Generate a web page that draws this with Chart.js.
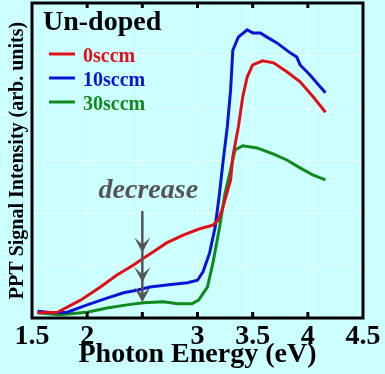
<!DOCTYPE html>
<html>
<head>
<meta charset="utf-8">
<script src="https://cdn.jsdelivr.net/npm/chart.js@4.4.0/dist/chart.umd.min.js"></script>
<style>
  html, body { margin: 0; padding: 0; background: #ccffff; }
  canvas { display: block; }
</style>
</head>
<body>
<canvas id="pptChart" width="385" height="374"></canvas>
<script>
// Values: photon energy (eV) and PPT signal (arb. units)
const seriesNames = ['0sccm', '10sccm', '30sccm'];

const energy0 = [1.55, 1.73, 1.94, 2.12, 2.27, 2.42, 2.51, 2.60, 2.72, 2.87, 3.02, 3.14, 3.19, 3.23, 3.30, 3.32, 3.37, 3.41, 3.45, 3.50, 3.59, 3.69, 3.81, 3.93, 4.05, 4.16];
const signal0 = [0.10, 0.11, 0.34, 0.59, 0.82, 1.01, 1.14, 1.26, 1.43, 1.58, 1.70, 1.77, 1.87, 2.11, 2.63, 3.07, 3.64, 4.21, 4.59, 4.82, 4.90, 4.86, 4.69, 4.50, 4.21, 3.92];

const energy10 = [1.55, 1.69, 1.82, 2.00, 2.18, 2.33, 2.45, 2.57, 2.72, 2.91, 3.00, 3.05, 3.11, 3.16, 3.20, 3.23, 3.27, 3.30, 3.32, 3.37, 3.45, 3.50, 3.57, 3.63, 3.72, 3.84, 3.90, 3.93, 4.02, 4.08, 4.16];
const signal10 = [0.13, 0.10, 0.11, 0.25, 0.38, 0.48, 0.53, 0.59, 0.63, 0.67, 0.72, 0.88, 1.24, 1.73, 2.38, 2.95, 3.64, 4.34, 5.10, 5.35, 5.49, 5.43, 5.43, 5.35, 5.24, 5.05, 4.97, 4.82, 4.63, 4.48, 4.29];

const energy30 = [1.55, 1.75, 2.00, 2.18, 2.36, 2.51, 2.69, 2.82, 2.95, 3.01, 3.09, 3.14, 3.20, 3.25, 3.30, 3.34, 3.41, 3.54, 3.69, 3.81, 3.93, 4.05, 4.16];
const signal30 = [0.10, 0.06, 0.11, 0.19, 0.25, 0.29, 0.31, 0.27, 0.27, 0.34, 0.59, 1.05, 1.73, 2.38, 2.82, 3.20, 3.28, 3.24, 3.12, 3.01, 2.86, 2.72, 2.63];

const xTickValues = [1.5, 2, 2.5, 3, 3.5, 4, 4.5];
const xTickLabels = ['1.5', '2', '', '3', '3.5', '4', '4.5'];
const innerTickValues = [2, 2.5, 3, 3.5, 4];

// "decrease" arrow at 2.5 eV
const arrowEnergy = 2.5;
const arrowTop = 2.04;
const arrowTips = [1.25, 0.68, 0.30];

const colors = ['#e0101a', '#0a14d8', '#108a1c'];

function toPoints(xs, ys) {
    return xs.map((v, i) => ({ x: v, y: ys[i] }));
}

const serif = '"Liberation Serif", "DejaVu Serif", serif';

// Frame, inward ticks, labels and the arrow
const decorations = {
    id: 'decorations',
    afterDatasetsDraw(chart) {
        const { ctx, chartArea: a, scales: { x, y } } = chart;
        ctx.save();

        ctx.strokeStyle = '#000';
        ctx.lineWidth = 3;
        ctx.strokeRect(a.left, a.top, a.right - a.left, a.bottom - a.top);

        innerTickValues.forEach(v => {
            const px = x.getPixelForValue(v);
            ctx.beginPath();
            ctx.moveTo(px, a.bottom);
            ctx.lineTo(px, a.bottom - 6);
            ctx.moveTo(px, a.top);
            ctx.lineTo(px, a.top + 5);
            ctx.stroke();
        });

        // panel title
        ctx.fillStyle = '#000';
        ctx.font = 'bold 28px ' + serif;
        ctx.textBaseline = 'alphabetic';
        ctx.fillText('Un-doped', a.left + 11, a.top + 27);

        // legend
        ctx.font = 'bold 20px ' + serif;
        chart.data.datasets.forEach((ds, i) => {
            const ly = a.top + 51 + i * 24;
            ctx.strokeStyle = ds.borderColor;
            ctx.lineWidth = 3;
            ctx.beginPath();
            ctx.moveTo(a.left + 17, ly);
            ctx.lineTo(a.left + 43, ly);
            ctx.stroke();
            ctx.fillStyle = ds.borderColor;
            ctx.fillText(ds.label, a.left + 51, ly + 8);
        });

        // arrow
        const ax = x.getPixelForValue(arrowEnergy);
        ctx.strokeStyle = '#555555';
        ctx.fillStyle = '#555555';
        ctx.lineWidth = 2.5;
        ctx.beginPath();
        ctx.moveTo(ax, y.getPixelForValue(arrowTop));
        ctx.lineTo(ax, y.getPixelForValue(arrowTips[arrowTips.length - 1]) - 3);
        ctx.stroke();
        arrowTips.forEach(t => {
            const ty = y.getPixelForValue(t);
            ctx.beginPath();
            ctx.moveTo(ax, ty);
            ctx.lineTo(ax - 8, ty - 15);
            ctx.lineTo(ax, ty - 8);
            ctx.lineTo(ax + 8, ty - 15);
            ctx.closePath();
            ctx.fill();
        });

        ctx.font = 'italic bold 28px ' + serif;
        ctx.textAlign = 'center';
        ctx.fillText('decrease', ax + 6, y.getPixelForValue(arrowTop) - 13);

        ctx.restore();
    }
};

const pptCtx = document.getElementById('pptChart').getContext('2d');
const pptChart = new Chart(pptCtx, {
    type: 'line',
    data: {
        datasets: [
            { label: seriesNames[0], data: toPoints(energy0, signal0), borderColor: colors[0] },
            { label: seriesNames[1], data: toPoints(energy10, signal10), borderColor: colors[1] },
            { label: seriesNames[2], data: toPoints(energy30, signal30), borderColor: colors[2] }
        ]
    },
    options: {
        responsive: false,
        animation: false,
        layout: {
            padding: { top: 3, right: 22, left: 0, bottom: 0 }
        },
        elements: {
            point: { radius: 0 },
            line: { borderWidth: 3, tension: 0 }
        },
        plugins: {
            legend: { display: false },
            tooltip: { enabled: false }
        },
        scales: {
            x: {
                type: 'linear',
                min: 1.5,
                max: 4.5,
                afterFit: s => { s.height = 56; },
                afterBuildTicks: s => { s.ticks = xTickValues.map(v => ({ value: v })); },
                ticks: {
                    color: '#000',
                    padding: 2,
                    maxRotation: 0,
                    font: { family: serif, size: 28, weight: 'bold' },
                    callback: (v) => xTickLabels[xTickValues.indexOf(v)]
                },
                grid: { color: '#ffffff', lineWidth: 1, drawTicks: false },
                border: { display: false, dash: [2, 2] },
                title: {
                    display: true,
                    text: 'Photon Energy (eV)',
                    color: '#000',
                    font: { family: serif, size: 28, weight: 'bold' },
                    padding: { top: 0, bottom: 2 }
                }
            },
            y: {
                min: 0,
                max: 6,
                afterFit: s => { s.width = 32; },
                ticks: { display: false, stepSize: 1 },
                grid: { color: '#ffffff', lineWidth: 1, drawTicks: false },
                border: { display: false, dash: [2, 2] },
                title: {
                    display: true,
                    text: 'PPT Signal Intensity (arb. units)',
                    color: '#000',
                    font: { family: serif, size: 20, weight: 'bold' },
                    padding: { top: 6, bottom: 0 }
                }
            }
        }
    },
    plugins: [decorations]
});
</script>
</body>
</html>
